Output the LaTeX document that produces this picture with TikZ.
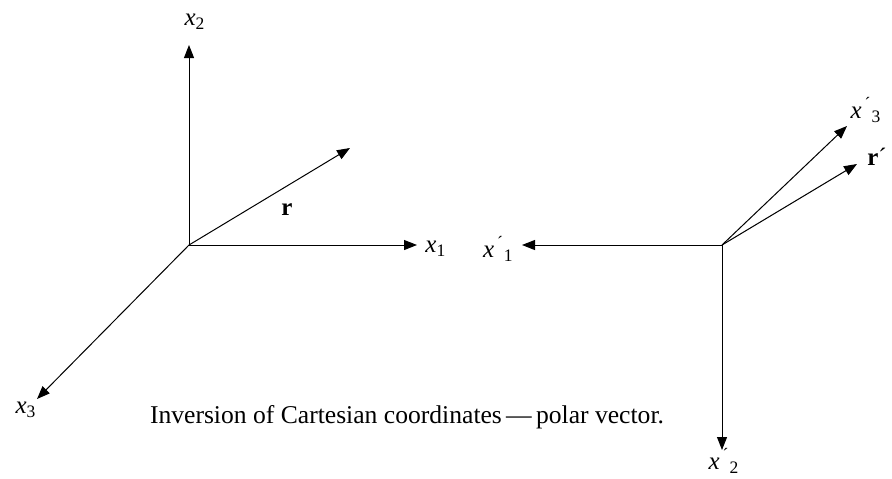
\documentclass[tikz,border=0pt]{standalone}
\usepackage{fontspec}
\setmainfont{Liberation Serif}
\usepackage{tikz}
\usetikzlibrary{arrows.meta}
\tikzstyle{axis_arrow} = [line width=0.5pt, -{Triangle[length=6.5pt,width=5pt]}]
\tikzstyle{axis_label} = [inner sep=1pt, font=\fontsize{12.5}{14}\selectfont]
\tikzstyle{caption_text} = [inner sep=0pt, anchor=base, font=\fontsize{12.8}{15}\selectfont]
\newcommand{\xlab}[1]{\textit{x}\textsubscript{#1}}
\newcommand{\xplab}[1]{\textit{x}\textsuperscript{\,´}\textsubscript{#1}}

\begin{document}
\begin{tikzpicture}[x=0.5pt,y=-0.5pt]
			\useasboundingbox (0,0) rectangle (892,478);
			% original frame
			\coordinate (O) at (189,245);
			\coordinate (X1) at (417,245);
			\coordinate (X2) at (189,45);
			\coordinate (X3) at (37,399);
			\coordinate (R) at (350,148);
			% inverted frame
			\coordinate (P) at (722,245);
			\coordinate (Y1) at (522,245);
			\coordinate (Y2) at (722,450);
			\coordinate (Y3) at (847,126);
			\coordinate (S) at (857,164);

			\draw[axis_arrow] (O)--(X1);
			\draw[axis_arrow] (O)--(X2);
			\draw[axis_arrow] (O)--(X3);
			\draw[axis_arrow] (O)--(R);

			\draw[axis_arrow] (P)--(Y1);
			\draw[axis_arrow] (P)--(Y2);
			\draw[axis_arrow] (P)--(Y3);
			\draw[axis_arrow] (P)--(S);

			\node (L1) at (X1) [axis_label, anchor=west, xshift=3pt, yshift=-2pt] {\xlab{1}};
			\node (L2) at (195,22) [axis_label] {\xlab{2}};
			\node (L3) at (26,410) [axis_label] {\xlab{3}};
			\node (LR) at (287,210) [axis_label] {\textbf{r}};

			\node (M1) at (Y1) [axis_label, anchor=east, xshift=-3pt, yshift=-2pt] {\xplab{1}};
			\node (M2) at (724,461) [axis_label] {\xplab{2}};
			\node (M3) at (866,110) [axis_label] {\xplab{3}};
			\node (MR) at (877,157) [axis_label] {\textbf{r}´};

			\node (CAP) at (407,423) [caption_text] {Inversion of Cartesian coordinates\,---\,polar vector.};
		\end{tikzpicture}
\end{document}
